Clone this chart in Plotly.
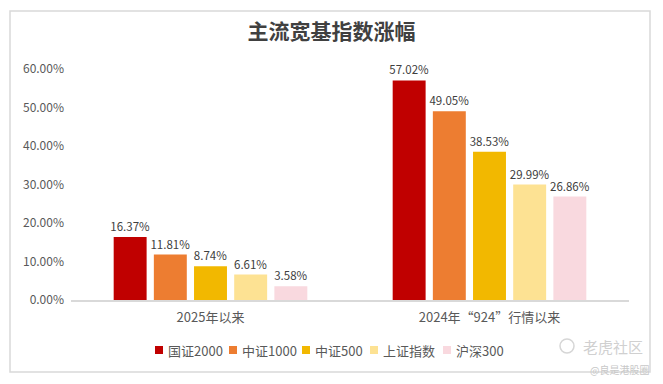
import plotly.graph_objects as go

categories = ["2025年以来", "2024年“924”行情以来"]
series_names = ["国证2000", "中证1000", "中证500", "上证指数", "沪深300"]
values = {
    "国证2000": [16.37, 57.02],
    "中证1000": [11.81, 49.05],
    "中证500": [8.74, 38.53],
    "上证指数": [6.61, 29.99],
    "沪深300": [3.58, 26.86],
}
colors = ["#C00000", "#ED7D31", "#F2B800", "#FDE293", "#F9D9DF"]
y_ticks = [0, 10, 20, 30, 40, 50, 60]
y_tick_text = [f"{v:.2f}%" for v in y_ticks]

W, H = 663, 384
ML, MR, MT, MB = 71, 34, 69, 84
FONT = "Noto Sans CJK SC, Noto Sans, sans-serif"
# legend swatch left edges (px) – layout only
legend_x_px = [155, 229, 302, 370, 443]
legend_y_px = 350

fig = go.Figure()
for name, col in zip(series_names, colors):
    fig.add_trace(go.Bar(
        name=name, x=categories, y=values[name],
        marker=dict(color=col, line=dict(width=0)),
        text=[f"{v:.2f}%" for v in values[name]],
        textposition="outside", cliponaxis=False, constraintext="none",
        textfont=dict(size=11.5, color="#404040", family=FONT),
    ))

pw = W - ML - MR
ph = H - MT - MB
def px_x(p):
    return (p - ML) / pw
def px_y(p):
    return (H - MB - p) / ph

# outer chart border
fig.add_shape(type="rect", xref="paper", yref="paper",
              x0=px_x(10), x1=px_x(650), y0=px_y(372), y1=px_y(11),
              line=dict(color="#D9D9D9", width=1.5), fillcolor="rgba(0,0,0,0)", layer="below")

# custom compact legend
for name, col, lx in zip(series_names, colors, legend_x_px):
    fig.add_shape(type="rect", xref="paper", yref="paper",
                  x0=px_x(lx), x1=px_x(lx + 8), y0=px_y(legend_y_px + 4), y1=px_y(legend_y_px - 4),
                  line=dict(width=0), fillcolor=col)
    fig.add_annotation(text=name, xref="paper", yref="paper",
                       x=px_x(lx + 11), y=px_y(legend_y_px), xanchor="left", yanchor="middle",
                       showarrow=False, font=dict(size=13, color="#595959", family=FONT))

# watermark
fig.add_shape(type="circle", xref="paper", yref="paper",
              x0=px_x(560), x1=px_x(574), y0=px_y(353), y1=px_y(339),
              line=dict(color="#D6D6D6", width=1.5), fillcolor="rgba(0,0,0,0)")
fig.add_annotation(text="老虎社区", xref="paper", yref="paper",
                   x=px_x(581), y=px_y(346), xanchor="left", yanchor="middle",
                   showarrow=False, font=dict(size=15, color="#D0D0D0", family=FONT))
fig.add_annotation(text="@良是港股圈", xref="paper", yref="paper",
                   x=px_x(651), y=px_y(369), xanchor="right", yanchor="middle",
                   showarrow=False, font=dict(size=10, color="#C8C8C8", family=FONT))

fig.update_layout(
    width=W, height=H,
    margin=dict(l=ML, r=MR, t=MT, b=MB, autoexpand=False),
    paper_bgcolor="white", plot_bgcolor="white",
    title=dict(text="<b>主流宽基指数涨幅</b>", x=0.5, xanchor="center", y=1 - 32 / H, yanchor="middle",
               font=dict(size=21, color="#404040", family=FONT)),
    barmode="group", bargap=0.28, bargroupgap=0.18,
    showlegend=False,
    xaxis=dict(showline=True, linecolor="#D9D9D9", linewidth=1.5, ticks="", tickangle=0,
               ticklabelstandoff=5,
               tickfont=dict(size=13, color="#595959", family=FONT)),
    yaxis=dict(range=[0, 60], tickvals=y_ticks, ticktext=y_tick_text, showgrid=False,
               zeroline=False, showline=False, ticks="", ticklabelstandoff=6,
               tickfont=dict(size=12, color="#595959", family=FONT)),
)

fig.write_html("out.html", config={"displayModeBar": False},
               post_script="document.body.style.margin='0';document.body.style.padding='0';")
